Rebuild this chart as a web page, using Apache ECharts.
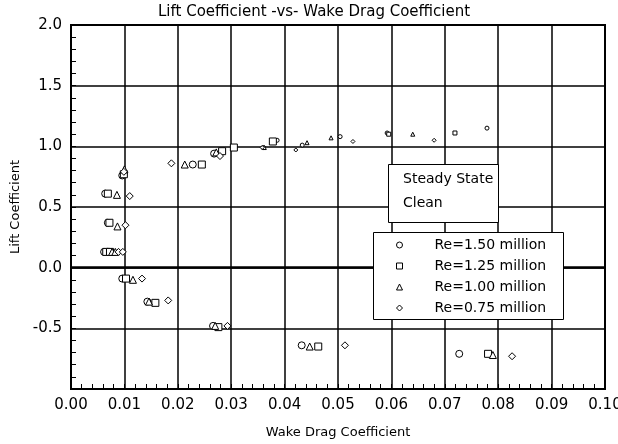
<!DOCTYPE html>
<html>
<head>
<meta charset="utf-8">
<script src="https://cdn.jsdelivr.net/npm/echarts@6/dist/echarts.min.js"></script>
<style>
html, body { margin: 0; padding: 0; background: #fff; }
#main { width: 618px; height: 444px; }
</style>
</head>
<body>
<div id="main"></div>
<script>
// legend names
var seriesNames = ['Re=1.50 million', 'Re=1.25 million', 'Re=1.00 million', 'Re=0.75 million'];

// [wake drag coefficient, lift coefficient]
var re150 = [[0.0266,-0.48],[0.0143,-0.28],[0.0096,-0.09],[0.0062,0.13],[0.0068,0.13],[0.0069,0.37],
    [0.0064,0.61],[0.0096,0.76],[0.0228,0.85],[0.0268,0.94],[0.0360,0.99],[0.0386,1.05],[0.0433,1.01],
    [0.0504,1.08],[0.0592,1.11],[0.0779,1.15],[0.0432,-0.64],[0.0727,-0.71]];
var re125 = [[0.0276,-0.49],[0.0158,-0.29],[0.0103,-0.09],[0.0066,0.13],[0.0073,0.13],[0.0072,0.37],
    [0.0069,0.61],[0.0099,0.77],[0.0245,0.85],[0.0283,0.96],[0.0305,0.99],[0.0378,1.04],[0.0595,1.10],
    [0.0719,1.11],[0.0463,-0.65],[0.0781,-0.71]];
var re100 = [[0.0270,-0.48],[0.0146,-0.28],[0.0116,-0.10],[0.0077,0.13],[0.0083,0.13],[0.0087,0.34],
    [0.0086,0.60],[0.0100,0.81],[0.0213,0.85],[0.0272,0.95],[0.0362,0.99],[0.0442,1.03],[0.0487,1.07],
    [0.0640,1.10],[0.0447,-0.65],[0.0790,-0.72]];
var re075 = [[0.0293,-0.48],[0.0182,-0.27],[0.0133,-0.09],[0.0089,0.13],[0.0097,0.13],[0.0102,0.35],
    [0.0110,0.59],[0.0099,0.79],[0.0188,0.86],[0.0279,0.92],[0.0358,0.99],[0.0421,0.97],[0.0528,1.04],
    [0.0680,1.05],[0.0513,-0.64],[0.0826,-0.73]];

var font = 'DejaVu Sans';
var myChart = echarts.init(document.getElementById('main'));

// stalled points up at the top right are plotted smaller
function sizeFn(cut) {
    return function (val) {
        return (val[0] > cut && val[1] > 0.9) ? 4 : 7;
    };
}

function makeSeries(name, data, symbol, cut) {
    return {
        name: name,
        type: 'scatter',
        data: data,
        symbol: symbol,
        symbolSize: sizeFn(cut),
        itemStyle: { color: '#fff', borderColor: '#000', borderWidth: 1, opacity: 1 },
        emphasis: { disabled: true }
    };
}

var series = [
    makeSeries(seriesNames[0], re150, 'circle', 0.035),
    makeSeries(seriesNames[1], re125, 'rect', 0.04),
    makeSeries(seriesNames[2], re100, 'triangle', 0.035),
    makeSeries(seriesNames[3], re075, 'diamond', 0.035)
];
// heavy zero line
series[0].markLine = {
    silent: true,
    symbol: ['none', 'none'],
    label: { show: false },
    lineStyle: { color: '#000', width: 2.5, type: 'solid' },
    data: [{ yAxis: 0 }],
    z: 1
};

var option = {
    animation: false,
    backgroundColor: '#fff',
    textStyle: { fontFamily: font, color: '#000' },
    title: {
        text: 'Lift Coefficient -vs- Wake Drag Coefficient',
        left: 158,
        top: 5,
        padding: 0,
        textStyle: { fontFamily: font, fontSize: 15, fontWeight: 'normal', color: '#000' }
    },
    grid: {
        left: 71, right: 13, top: 25, bottom: 55,
        outerBoundsMode: 'none',
        containLabel: false,
        show: true, borderColor: '#000', borderWidth: 2, backgroundColor: 'transparent'
    },
    legend: {
        data: seriesNames,
        orient: 'vertical',
        left: 396,
        top: 238,
        padding: 0,
        itemWidth: 6,
        itemHeight: 6,
        itemGap: 7,
        symbolKeepAspect: true,
        z: 10,
        selectedMode: false,
        itemStyle: { borderWidth: 1 },
        textStyle: { fontFamily: font, fontSize: 14, color: '#000', padding: [0, 0, 0, 27] }
    },
    xAxis: {
        type: 'value',
        min: 0, max: 0.1, interval: 0.01,
        name: 'Wake Drag Coefficient',
        nameLocation: 'middle',
        nameGap: 37,
        nameTextStyle: { fontFamily: font, fontSize: 13, color: '#000' },
        axisLine: { show: true, onZero: false, lineStyle: { color: '#000', width: 2 } },
        axisTick: { show: true, inside: true, length: 5, lineStyle: { color: '#000' } },
        minorTick: { show: true, splitNumber: 5, length: 5, lineStyle: { color: '#000' } },
        axisLabel: {
            margin: 9, fontFamily: font, fontSize: 15, color: '#000',
            formatter: function (v) { return v.toFixed(2); }
        },
        splitLine: { show: true, lineStyle: { color: '#000', width: 1.5 } }
    },
    yAxis: {
        type: 'value',
        min: -1, max: 2, interval: 0.5,
        name: 'Lift Coefficient',
        nameLocation: 'middle',
        nameGap: 46,
        nameTextStyle: { fontFamily: font, fontSize: 13, color: '#000' },
        axisLine: { show: true, onZero: false, lineStyle: { color: '#000', width: 2 } },
        axisTick: { show: true, inside: true, length: 5, lineStyle: { color: '#000' } },
        minorTick: { show: true, splitNumber: 5, length: 5, lineStyle: { color: '#000' } },
        axisLabel: {
            margin: 9, fontFamily: font, fontSize: 15, color: '#000',
            formatter: function (v) { return v <= -1 ? '' : v.toFixed(1); }
        },
        splitLine: { show: true, lineStyle: { color: '#000', width: 1.5 } }
    },
    graphic: [
        {
            type: 'rect', left: 388, top: 164, z: 5,
            shape: { width: 110, height: 58 },
            style: { fill: '#fff', stroke: '#000', lineWidth: 1 }
        },
        {
            type: 'text', left: 403, top: 172, z: 6,
            style: { text: 'Steady State', fontFamily: font, fontSize: 14, fill: '#000' }
        },
        {
            type: 'text', left: 403, top: 196, z: 6,
            style: { text: 'Clean', fontFamily: font, fontSize: 14, fill: '#000' }
        },
        {
            type: 'rect', left: 373, top: 232, z: 5,
            shape: { width: 190, height: 87 },
            style: { fill: '#fff', stroke: '#000', lineWidth: 1 }
        }
    ],
    series: series
};

myChart.setOption(option);
</script>
</body>
</html>
